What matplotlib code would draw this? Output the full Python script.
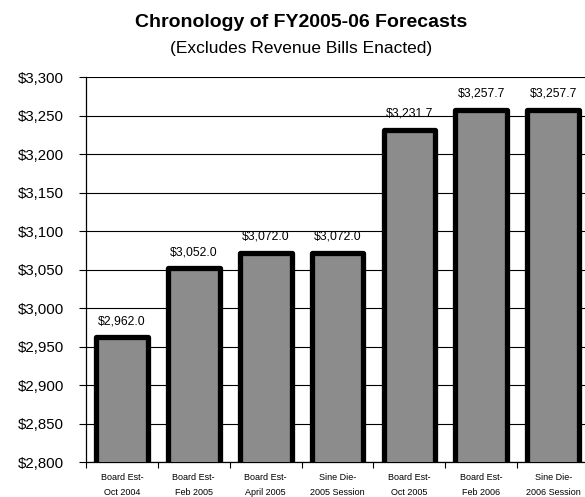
import matplotlib.pyplot as plt
import numpy as np

plt.rcParams['font.family'] = ['Liberation Sans', 'DejaVu Sans']

categories = ["Board Est-\nOct 2004", "Board Est-\nFeb 2005", "Board Est-\nApril 2005",
              "Sine Die-\n2005 Session", "Board Est-\nOct 2005", "Board Est-\nFeb 2006",
              "Sine Die-\n2006 Session"]
forecasts = [2962.0, 3052.0, 3072.0, 3072.0, 3231.7, 3257.7, 3257.7]
y_ticks = [2800, 2850, 2900, 2950, 3000, 3050, 3100, 3150, 3200, 3250, 3300]

fig = plt.figure(figsize=(5.85, 4.97), dpi=100)
ax = fig.add_axes([0.147, 0.0704, 0.86, 0.7746])

x = np.arange(len(forecasts))
ax.bar(x, forecasts, width=0.72, color='#8c8c8c', edgecolor='black',
       linewidth=3.8, joinstyle='round', zorder=3)

for xi, v in zip(x, forecasts):
    ax.annotate(f"${v:,.1f}", (xi, v), xytext=(0, 7), textcoords='offset points',
                ha='center', va='bottom', fontsize=8.8, zorder=4)

ax.set_xlim(-0.5, len(forecasts) - 0.5)
ax.set_ylim(2800, 3300)
ax.set_yticks(y_ticks)
ax.set_yticklabels([f"${t:,}" for t in y_ticks], fontsize=10.8)
ax.yaxis.grid(True, color='black', linewidth=0.8, zorder=0)

# category boundaries carry the tick marks, labels sit at the centers
ax.set_xticks(np.arange(len(forecasts) + 1) - 0.5)
ax.set_xticklabels([])
ax.set_xticks(x, minor=True)
ax.set_xticklabels(categories, minor=True, fontsize=6.5, linespacing=1.9)
ax.tick_params(axis='x', which='minor', length=0, pad=8)
ax.tick_params(axis='x', which='major', length=4, direction='out')
ax.tick_params(axis='y', length=5, direction='out', pad=11)

for side in ['top', 'right']:
    ax.spines[side].set_visible(False)
for side in ['left', 'bottom']:
    ax.spines[side].set_linewidth(0.9)

fig.text(0.515, 0.955, "Chronology of FY2005-06 Forecasts", ha='center', va='center',
         fontsize=14, fontweight='bold')
fig.text(0.515, 0.903, "(Excludes Revenue Bills Enacted)", ha='center', va='center',
         fontsize=12.5)

fig.savefig("out.png", dpi=100)
